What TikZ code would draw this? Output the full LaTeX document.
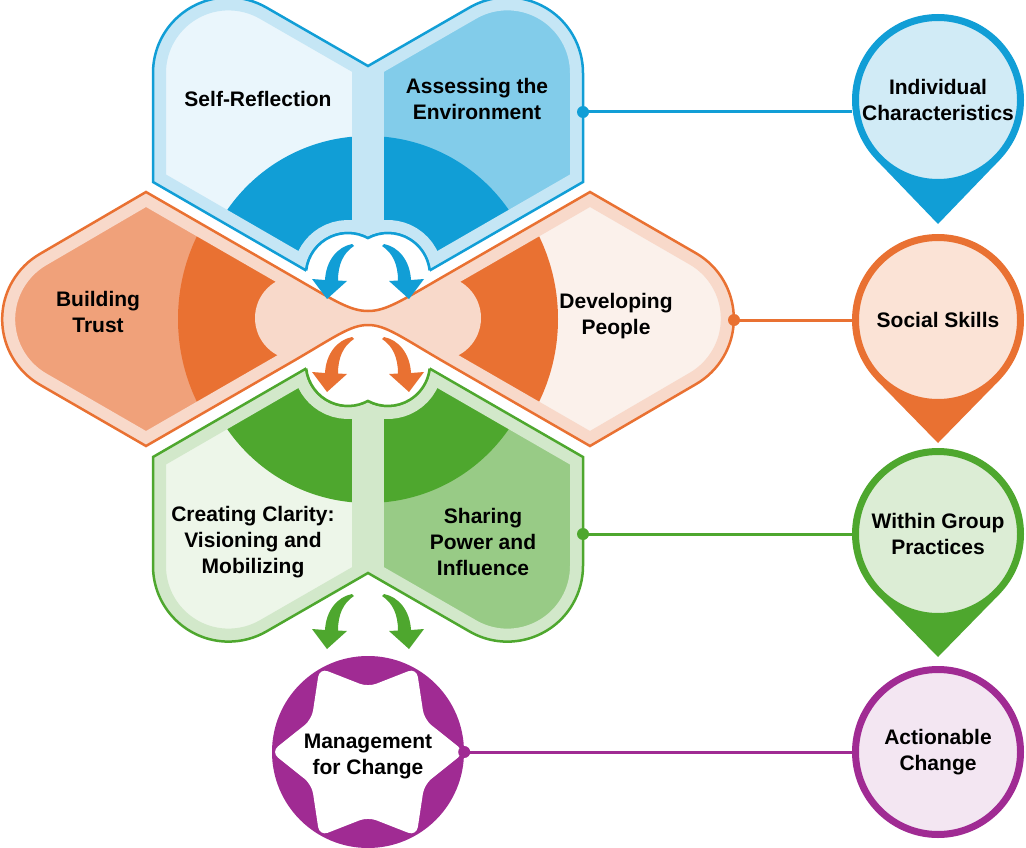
\documentclass[tikz,border=0pt]{standalone}
\usepackage{fontspec}
\setmainfont{Liberation Sans}
\usetikzlibrary{calc}
\tikzset{every node/.style={font=\bfseries\fontsize{21}{26}\selectfont, align=center}}
\tikzset{pinnode/.style={circle, line width=7pt, minimum size=165pt, inner sep=0pt}}

\definecolor{blueD}{RGB}{17,158,214}
\definecolor{blueBand}{RGB}{197,230,245}
\definecolor{blueL}{RGB}{234,246,252}
\definecolor{blueR}{RGB}{130,204,234}
\definecolor{bluePin}{RGB}{209,235,246}
\definecolor{orangeD}{RGB}{233,113,50}
\definecolor{orangeBand}{RGB}{248,217,202}
\definecolor{orangeL}{RGB}{240,161,122}
\definecolor{orangeR}{RGB}{251,241,235}
\definecolor{orangePin}{RGB}{251,227,214}
\definecolor{greenD}{RGB}{78,167,46}
\definecolor{greenBand}{RGB}{210,232,202}
\definecolor{greenL}{RGB}{237,246,233}
\definecolor{greenR}{RGB}{152,203,134}
\definecolor{greenPin}{RGB}{220,237,213}
\definecolor{purpleD}{RGB}{160,43,147}
\definecolor{purplePin}{RGB}{243,230,242}

% 书形块: #1 边框, #2 浅边, #3 左页, #4 右页
\newcommand{\drawbook}[4]{%
\begin{scope}
\clip \bookpath;
\fill[#3] (100,-100) rectangle (368,400);
\fill[#4] (368,-100) rectangle (650,400);
\fill[#1] (368,307) circle[radius=171];
\fill[#2] (352,-100) rectangle (384,280);
\draw[#2, line width=26pt] \bookpath;
\end{scope}
\draw[#1, line width=2.5pt] \bookpath;
\fill[white] (348,275) circle[radius=42] (388,275) circle[radius=42];
\draw[#1, line width=2.5pt] (306.2,270.5) arc[start angle=186.2, end angle=298.4, radius=42]
    arc[start angle=241.6, end angle=353.8, radius=42];
}

% 一对弯箭头
\newcommand{\twoarrows}[2]{%
\foreach \s in {1,-1} {
  \fill[#1, shift={(368,#2)}, xscale=\s] (-16,-1) .. controls (-31,2) and (-42,16) .. (-43,35)
      -- (-56,34) -- (-41,54) -- (-21,36) -- (-30,35.5) .. controls (-30,20) and (-25,8) .. (-14,1) -- cycle;
}}

\begin{document}
\begin{tikzpicture}[x=1pt, y=-1pt]

\useasboundingbox (0,0) rectangle (1026,848);

% 外形
\def\bookpath{(153,182) -- (153,73) arc[start angle=180, end angle=300, radius=75.6] -- (368,66)
    -- (469.6,7.5) arc[start angle=240, end angle=360, radius=75.6] -- (583,182) -- (429.6,270.5)
    arc[start angle=353.8, end angle=241.6, radius=42] arc[start angle=298.4, end angle=186.2, radius=42] -- cycle}
\def\wingpath{(146,192) -- (290,275) .. controls (335,301) and (350,311) .. (368,311)
    .. controls (386,311) and (401,301) .. (446,275) -- (590,192) -- (696,253.2)
    arc[start angle=-60, end angle=60, radius=75.6] -- (590,446) -- (446,363)
    .. controls (401,337) and (386,325) .. (368,325) .. controls (350,325) and (335,337) .. (290,363)
    -- (146,446) -- (40,384.8) arc[start angle=120, end angle=240, radius=75.6] -- cycle}

%%%%%%%%%%%%%%%%%%%%%%%%%%%%%%%%%%%%%%%%%%%%%%%%%%%%%%%%%%%%%%%%%%%%
% 蓝色
\drawbook{blueD}{blueBand}{blueL}{blueR}

% 绿色 (上下翻转)
\begin{scope}[shift={(0,639)}, yscale=-1]
\drawbook{greenD}{greenBand}{greenL}{greenR}
\end{scope}

% 橙色
\begin{scope}
\clip \wingpath;
\fill[orangeL] (0,150) rectangle (368,480);
\fill[orangeR] (368,150) rectangle (740,480);
\fill[orangeD] (368,319) circle[radius=190];
\fill[orangeBand] (297,318) circle[radius=42];
\fill[orangeBand] (439,318) circle[radius=42];
\fill[orangeBand] (297,250) rectangle (439,390);
\draw[orangeBand, line width=26pt] \wingpath;
\end{scope}
\draw[orangeD, line width=2.5pt] \wingpath;

\twoarrows{blueD}{245}
\twoarrows{orangeD}{338}
\twoarrows{greenD}{595}

\node (selfref) at (258,99) {Self-Reflection};
\node (assess) at (477,99) {Assessing the\\Environment};
\node (trust) at (98,312) {Building\\Trust};
\node (develop) at (616,316) {Developing\\People};
\node (clarity) at (253,542) {Creating Clarity:\\Visioning and\\Mobilizing};
\node (sharing) at (483,542) {Sharing\\Power and\\Influence};

% 紫色圆
\node[circle, fill=purpleD, minimum size=192pt, inner sep=0pt] (mgmtdisc) at (368,752) {};
\fill[white, rounded corners=9pt, shift={(368,752)}] (0:97)
    \foreach \a in {0,60,...,240} { -- (\a+30:65) -- (\a+60:97) } -- (330:65) -- cycle;
\node (mgmt) at (368,756) {Management\\for Change};

%%%%%%%%%%%%%%%%%%%%%%%%%%%%%%%%%%%%%%%%%%%%%%%%%%%%%%%%%%%%%%%%%%%%
% 右侧
\coordinate (pinA) at (938,100);
\coordinate (pinB) at (938,320);
\coordinate (pinC) at (938,534);

\fill[blueD] ($(pinA)+(-61.4,60.2)$) -- ($(pinA)+(0,124)$) -- ($(pinA)+(61.4,60.2)$) -- (pinA) -- cycle;
\fill[orangeD] ($(pinB)+(-61.4,60.2)$) -- ($(pinB)+(0,123)$) -- ($(pinB)+(61.4,60.2)$) -- (pinB) -- cycle;
\fill[greenD] ($(pinC)+(-61.4,60.2)$) -- ($(pinC)+(0,123)$) -- ($(pinC)+(61.4,60.2)$) -- (pinC) -- cycle;

\node[pinnode, draw=blueD, fill=bluePin] (indiv) at (pinA) {Individual\\Characteristics};
\node[pinnode, draw=orangeD, fill=orangePin] (social) at (pinB) {Social Skills};
\node[pinnode, draw=greenD, fill=greenPin] (group) at (pinC) {Within Group\\Practices};
\node[pinnode, draw=purpleD, fill=purplePin] (action) at (938,752) {Actionable\\Change};

\coordinate (dotA) at (583,112);
\coordinate (dotB) at (734,320);
\coordinate (dotC) at (583,534);

\draw[blueD, line width=3pt] (dotA) -- (dotA -| indiv.west);
\draw[orangeD, line width=3pt] (dotB) -- (social);
\draw[greenD, line width=3pt] (dotC) -- (group);
\draw[purpleD, line width=3pt] (mgmtdisc) -- (action);

\fill[blueD] (dotA) circle[radius=6];
\fill[orangeD] (dotB) circle[radius=6];
\fill[greenD] (dotC) circle[radius=6];
\fill[purpleD] (mgmtdisc.east) circle[radius=6];

\end{tikzpicture}
\end{document}
